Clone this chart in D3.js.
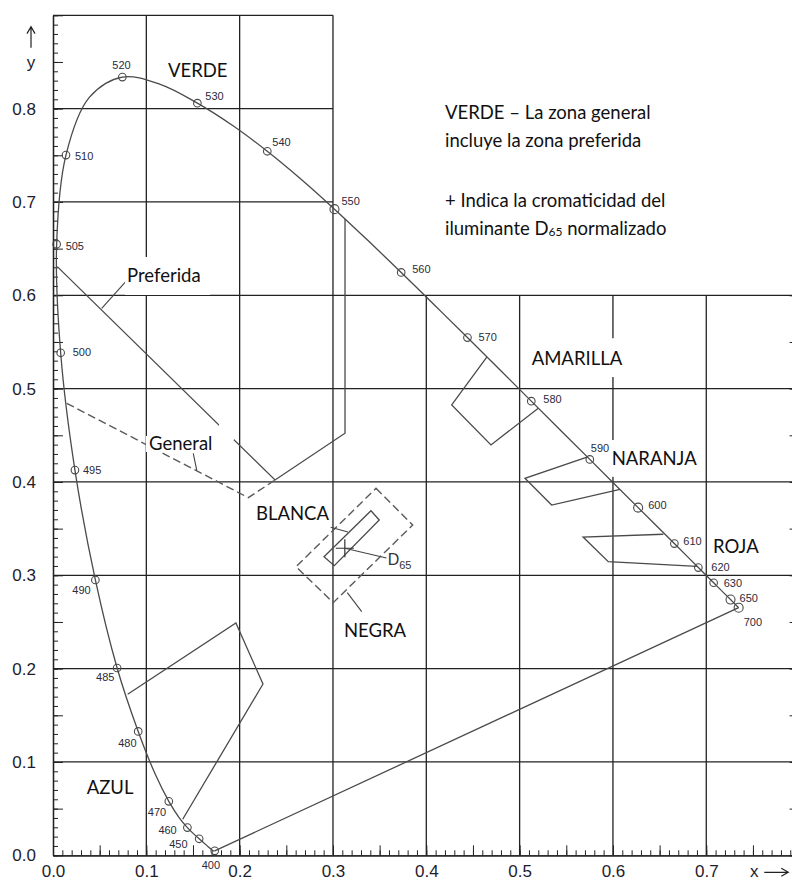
<!DOCTYPE html>
<html>
<head>
<meta charset="utf-8">
<script src="https://cdn.jsdelivr.net/npm/d3@7"></script>
<style>
  body { margin: 0; background: #fff; }
  .lbl { font-family: Lato, "Open Sans", sans-serif; font-size: 18.5px; fill: #111; }
  .wl { font-family: "Liberation Sans", Arial, sans-serif; font-size: 11px; fill: #2b2b3b; }
  .tk { font-family: "Liberation Sans", Arial, sans-serif; font-size: 17px; fill: #1d1d2d; }
</style>
</head>
<body>
<svg id="chart" width="792" height="880"></svg>
<script>
// spectral locus (CIE 1931), wavelength in nm
var locusWl = [400,410,420,430,440,450,455,460,465,470,475,480,485,490,495,500,505,510,515,520,525,530,535,540,545,550,555,560,565,570,575,580,585,590,595,600,605,610,615,620,625,630,640,650,660,680,700];
var locusX = [0.1733,0.1726,0.1714,0.1689,0.1644,0.1566,0.1510,0.1440,0.1355,0.1241,0.1096,0.0913,0.0687,0.0454,0.0235,0.0082,0.0039,0.0139,0.0389,0.0743,0.1142,0.1547,0.1929,0.2296,0.2658,0.3016,0.3373,0.3731,0.4087,0.4441,0.4788,0.5125,0.5448,0.5752,0.6029,0.6270,0.6482,0.6658,0.6801,0.6915,0.7006,0.7079,0.7190,0.7260,0.7300,0.7334,0.7347];
var locusY = [0.0048,0.0048,0.0051,0.0069,0.0109,0.0177,0.0227,0.0297,0.0399,0.0578,0.0868,0.1327,0.2007,0.2950,0.4127,0.5384,0.6548,0.7502,0.8120,0.8338,0.8262,0.8059,0.7816,0.7543,0.7243,0.6923,0.6589,0.6245,0.5896,0.5547,0.5202,0.4866,0.4544,0.4242,0.3965,0.3725,0.3514,0.3340,0.3197,0.3083,0.2993,0.2920,0.2809,0.2740,0.2700,0.2666,0.2653];
var markedWl = [400,450,460,470,480,485,490,495,500,505,510,520,530,540,550,560,570,580,590,600,610,620,630,650,700];

// signal colour zones, [x, y] corners
var zoneAzul = [[0.080,0.1725],[0.196,0.249],[0.225,0.1835],[0.139,0.0386]];
var zoneAmarilla = [[0.465,0.534],[0.4272,0.4825],[0.4693,0.4397],[0.520,0.479]];
var zoneNaranja = [[0.573,0.427],[0.5057,0.4039],[0.5343,0.3753],[0.6075,0.392]];
var zoneRoja = [[0.654,0.344],[0.568,0.341],[0.595,0.3146],[0.690,0.3095]];
var zoneVerdePref = [[0.0046,0.6307],[0.2379,0.4021],[0.3129,0.4522],[0.3129,0.682]];
var zoneVerdeGen = [[0.0147,0.4843],[0.2093,0.3832],[0.2379,0.4021]];
var zoneBlancaGen = [[0.3461,0.3932],[0.3854,0.3539],[0.3003,0.2707],[0.2604,0.3092]];
var zoneBlancaPref = [[0.3407,0.3692],[0.3496,0.3593],[0.3014,0.3103],[0.2904,0.3199]];
var d65 = [0.3127, 0.3290];

var xTickLabels = ["0.0","0.1","0.2","0.3","0.4","0.5","0.6","0.7"];
var yTickLabels = ["0.0","0.1","0.2","0.3","0.4","0.5","0.6","0.7","0.8"];

var svg = d3.select("#chart");
var x = d3.scaleLinear().domain([0, 0.8]).range([53, 799.6]);
var y = d3.scaleLinear().domain([0, 0.9]).range([855.3, 15.3]);
var ink = "#222";
var lineInk = "#4a4a4a";

// grid (upper part only reaches x = 0.3)
var grid = svg.append("g").attr("stroke", ink).attr("stroke-width", 1.3);
d3.range(1, 8).forEach(function(i) {
  var v = i / 10;
  grid.append("line")
    .attr("x1", x(v)).attr("x2", x(v))
    .attr("y1", y(0)).attr("y2", y(i <= 3 ? 0.9 : 0.6));
});
d3.range(1, 10).forEach(function(i) {
  var v = i / 10;
  grid.append("line")
    .attr("x1", x(0)).attr("x2", x(i <= 6 ? 0.8 : 0.3))
    .attr("y1", y(v)).attr("y2", y(v));
});

// axes: fine ticks every 0.01, longer ticks every 0.05
function fine(n) { return d3.range(0, n + 1).map(function(i) { return i / 100; }); }
function half(n) { return d3.range(0, n + 1).map(function(i) { return i / 20; }); }

function styleAxis(g) {
  g.selectAll("line").attr("stroke", ink);
  g.select(".domain").attr("stroke", ink).attr("stroke-width", 1.3);
}
svg.append("g").attr("transform", "translate(0," + y(0) + ")")
  .call(d3.axisBottom(x).tickValues(fine(80)).tickSize(-5).tickSizeOuter(0).tickFormat(""))
  .call(styleAxis);
svg.append("g").attr("transform", "translate(0," + y(0) + ")")
  .call(d3.axisBottom(x).tickValues(half(16)).tickSize(-10).tickSizeOuter(0).tickFormat(""))
  .call(styleAxis);
svg.append("g").attr("transform", "translate(" + x(0) + ",0)")
  .call(d3.axisLeft(y).tickValues(fine(90)).tickSize(-5).tickSizeOuter(0).tickFormat(""))
  .call(styleAxis);
svg.append("g").attr("transform", "translate(" + x(0) + ",0)")
  .call(d3.axisLeft(y).tickValues(half(18)).tickSize(-10).tickSizeOuter(0).tickFormat(""))
  .call(styleAxis);
svg.append("g").attr("transform", "translate(" + x(0.8) + ",0)")
  .call(d3.axisRight(y).tickValues(half(12)).tickSize(-10).tickSizeOuter(0).tickFormat(""))
  .call(styleAxis);

// tick labels
var xl = svg.append("g").attr("transform", "translate(0," + y(0) + ")")
  .call(d3.axisBottom(x).tickValues(d3.range(0, 8).map(function(i) { return i / 10; }))
    .tickSize(0).tickPadding(10).tickFormat(function(d, i) { return xTickLabels[i]; }));
xl.select(".domain").remove();
xl.attr("font-size", null).attr("font-family", null).selectAll("text").attr("class", "tk");

var yl = svg.append("g").attr("transform", "translate(" + x(0) + ",0)")
  .call(d3.axisLeft(y).tickValues(d3.range(0, 9).map(function(i) { return i / 10; }))
    .tickSize(0).tickPadding(17).tickFormat(function(d, i) { return yTickLabels[i]; }));
yl.select(".domain").remove();
yl.attr("font-size", null).attr("font-family", null).selectAll("text").attr("class", "tk");

// axis names with arrows
svg.append("text").attr("class", "tk").attr("x", x(0) - 22).attr("y", y(0.8) - 41)
  .attr("text-anchor", "middle").text("y");
svg.append("path").attr("fill", "none").attr("stroke", ink).attr("stroke-width", 1.2)
  .attr("d", "M" + (x(0) - 22) + "," + (y(0.8) - 61) + "V" + (y(0.8) - 82)
    + "M" + (x(0) - 26) + "," + (y(0.8) - 75) + "L" + (x(0) - 22) + "," + (y(0.8) - 82)
    + "L" + (x(0) - 18) + "," + (y(0.8) - 75));
svg.append("text").attr("class", "tk").attr("x", x(0.7) + 48).attr("y", y(0) + 22)
  .attr("text-anchor", "middle").text("x");
svg.append("path").attr("fill", "none").attr("stroke", ink).attr("stroke-width", 1.2)
  .attr("d", "M" + (x(0.7) + 58) + "," + (y(0) + 17) + "H" + (x(0.7) + 82)
    + "M" + (x(0.7) + 75) + "," + (y(0) + 13) + "L" + (x(0.7) + 82) + "," + (y(0) + 17)
    + "L" + (x(0.7) + 75) + "," + (y(0) + 21));

// spectral locus and purple line
var locus = locusWl.map(function(w, i) { return { wl: w, x: locusX[i], y: locusY[i] }; });
var line = d3.line().x(function(d) { return x(d.x); }).y(function(d) { return y(d.y); })
  .curve(d3.curveCatmullRom.alpha(0.5));
svg.append("path").datum(locus).attr("d", line)
  .attr("fill", "none").attr("stroke", lineInk).attr("stroke-width", 1.3);
svg.append("line")
  .attr("x1", x(locus[0].x)).attr("y1", y(locus[0].y))
  .attr("x2", x(locus[locus.length - 1].x)).attr("y2", y(locus[locus.length - 1].y))
  .attr("stroke", lineInk).attr("stroke-width", 1.3);

// zones
var poly = d3.line().x(function(d) { return x(d[0]); }).y(function(d) { return y(d[1]); });
function zone(pts, closed, dashed) {
  svg.append("path").attr("d", poly(pts) + (closed ? "Z" : ""))
    .attr("fill", "none").attr("stroke", dashed ? "#5a5a5a" : lineInk)
    .attr("stroke-width", dashed ? 1.4 : 1.3)
    .attr("stroke-dasharray", dashed ? "8,4" : null);
}
zone(zoneAzul, false, false);
zone(zoneAmarilla, false, false);
zone(zoneNaranja, false, false);
zone(zoneRoja, false, false);
zone(zoneVerdePref, false, false);
zone(zoneVerdeGen, false, true);
zone(zoneBlancaGen, true, true);
zone(zoneBlancaPref, true, false);

// wavelength markers and labels
var wlOffset = {
  400: [-13, 18], 450: [-30, 9], 460: [-29, 6], 470: [-21, 15], 480: [-20, 16],
  485: [-21, 13], 490: [-23, 14], 495: [8, 4], 500: [12, 3], 505: [9, 6],
  510: [9, 5], 520: [-10, -8], 530: [8, -3], 540: [5, -5], 550: [7, -4],
  560: [11, 1], 570: [11, 3], 580: [12, 2], 590: [1, -7], 600: [10, 1],
  610: [9, 1], 620: [13, 3], 630: [10, 4], 650: [9, 2], 700: [5, 18]
};
var marked = locus.filter(function(d) { return markedWl.indexOf(d.wl) >= 0; });
svg.append("g").selectAll("circle").data(marked).enter().append("circle")
  .attr("cx", function(d) { return x(d.x); })
  .attr("cy", function(d) { return y(d.y); })
  .attr("r", function(d) { return d.wl >= 650 || d.wl == 550 || d.wl == 600 ? 4.5 : 3.8; })
  .attr("fill", "none").attr("stroke", lineInk).attr("stroke-width", 1.1);
svg.append("g").selectAll("text").data(marked).enter().append("text")
  .attr("class", "wl")
  .attr("x", function(d) { return x(d.x) + wlOffset[d.wl][0]; })
  .attr("y", function(d) { return y(d.y) + wlOffset[d.wl][1]; })
  .text(function(d) { return d.wl; });

// D65 cross
svg.append("path").attr("fill", "none").attr("stroke", "#333").attr("stroke-width", 1.2)
  .attr("d", "M" + (x(d65[0]) - 9) + "," + y(d65[1]) + "h18M" + x(d65[0]) + "," + (y(d65[1]) - 9) + "v18");

// leader lines
var leaders = [
  [[0.0522, 0.5861], [0.0796, 0.6164]],
  [[0.1540, 0.4128], [0.1503, 0.4307]],
  [[0.2975, 0.3514], [0.3161, 0.3464]],
  [[0.3153, 0.2814], [0.3308, 0.2610]],
  [d65, [0.3573, 0.3185]]
];
leaders.forEach(function(l) {
  svg.append("path").attr("d", poly(l)).attr("fill", "none")
    .attr("stroke", "#444").attr("stroke-width", 1.1);
});

// white patches behind the labels (they hide grid lines in the original)
var patches = [
  [0.0771, 0.1682, 0.6410, 0.6003],
  [0.0996, 0.1757, 0.4493, 0.4321],
  [0.1779, 0.1939, 0.4632, 0.4450],
  [0.5089, 0.6096, 0.5540, 0.5124],
  [0.5968, 0.6900, 0.4450, 0.4055]
];
patches.forEach(function(p) {
  svg.append("rect").attr("x", x(p[0])).attr("y", y(p[2]))
    .attr("width", x(p[1]) - x(p[0])).attr("height", y(p[3]) - y(p[2]))
    .attr("fill", "#fff");
});

// zone names
var names = [
  ["VERDE", 0.1232, 0.8339], ["Preferida", 0.0793, 0.6143], ["General", 0.1029, 0.4343],
  ["AMARILLA", 0.5129, 0.5253], ["NARANJA", 0.5986, 0.4182], ["ROJA", 0.7072, 0.3239],
  ["BLANCA", 0.2175, 0.3593], ["NEGRA", 0.3118, 0.2342], ["AZUL", 0.0361, 0.0657]
];
names.forEach(function(n) {
  svg.append("text").attr("class", "lbl").attr("x", x(n[1])).attr("y", y(n[2])).text(n[0]);
});

// D65 label
var dl = svg.append("text").attr("x", x(0.3586)).attr("y", y(0.3110))
  .attr("font-family", "Liberation Sans, Arial, sans-serif").attr("font-size", 16).attr("fill", "#333");
dl.append("tspan").text("D");
dl.append("tspan").attr("font-size", 11).attr("dy", 4).text("65");

// note
var note = svg.append("g").attr("class", "lbl");
note.append("text").attr("x", x(0.42)).attr("y", y(0.7886)).text("VERDE – La zona general");
note.append("text").attr("x", x(0.42)).attr("y", y(0.7584)).text("incluye la zona preferida");
note.append("text").attr("x", x(0.42)).attr("y", y(0.6949)).text("+ Indica la cromaticidad del");
var n4 = note.append("text").attr("x", x(0.42)).attr("y", y(0.6646));
n4.append("tspan").text("iluminante D");
n4.append("tspan").attr("font-size", 12).attr("dy", 1).text("65");
n4.append("tspan").attr("dy", -1).text(" normalizado");
</script>
</body>
</html>
